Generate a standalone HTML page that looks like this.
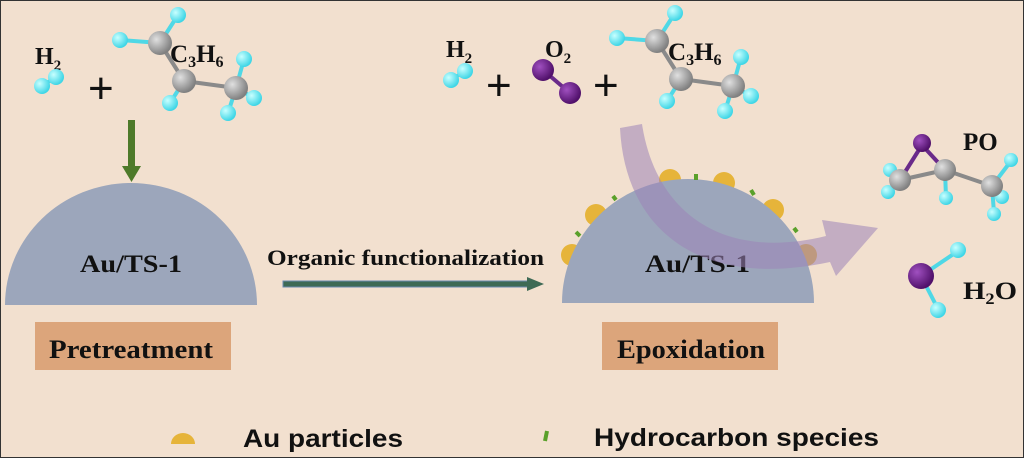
<!DOCTYPE html>
<html><head><meta charset="utf-8"><style>
html,body{margin:0;padding:0;background:#fff}
svg{display:block}
.t{font-family:"Liberation Serif",serif;font-weight:bold;fill:#111}
.s{font-family:"Liberation Sans",sans-serif;font-weight:bold;fill:#111}
</style></head><body>
<svg width="1024" height="458" viewBox="0 0 1024 458" xmlns="http://www.w3.org/2000/svg">
<defs>
<radialGradient id="h" cx="35%" cy="35%" r="65%"><stop offset="0" stop-color="#c8ffff"/><stop offset="1" stop-color="#3fd6e6"/></radialGradient>
<radialGradient id="c" cx="35%" cy="35%" r="65%"><stop offset="0" stop-color="#e0e0e0"/><stop offset="1" stop-color="#808080"/></radialGradient>
<radialGradient id="o" cx="35%" cy="35%" r="65%"><stop offset="0" stop-color="#a050c0"/><stop offset="1" stop-color="#50106a"/></radialGradient>
<g id="prop">
 <g stroke="#8a8a8a" stroke-width="4"><line x1="0" y1="0" x2="24" y2="38"/><line x1="24" y1="38" x2="76" y2="45"/></g>
 <g stroke="#4fd8e6" stroke-width="4"><line x1="0" y1="0" x2="18" y2="-28"/><line x1="0" y1="0" x2="-40" y2="-3"/><line x1="24" y1="38" x2="10" y2="60"/><line x1="76" y1="45" x2="84" y2="16"/><line x1="76" y1="45" x2="94" y2="55"/><line x1="76" y1="45" x2="68" y2="70"/></g>
 <circle cx="18" cy="-28" r="8" fill="url(#h)"/><circle cx="-40" cy="-3" r="8" fill="url(#h)"/>
 <circle cx="10" cy="60" r="8" fill="url(#h)"/><circle cx="84" cy="16" r="8" fill="url(#h)"/>
 <circle cx="94" cy="55" r="8" fill="url(#h)"/><circle cx="68" cy="70" r="8" fill="url(#h)"/>
 <circle cx="0" cy="0" r="12" fill="url(#c)"/><circle cx="24" cy="38" r="12" fill="url(#c)"/><circle cx="76" cy="45" r="12" fill="url(#c)"/>
</g>
<g id="h2"><line x1="0" y1="0" x2="14" y2="-9" stroke="#4fd8e6" stroke-width="4"/><circle cx="0" cy="0" r="8" fill="url(#h)"/><circle cx="14" cy="-9" r="8" fill="url(#h)"/></g>
</defs>
<rect x="0" y="0" width="1024" height="458" fill="#f2e0cf" stroke="#333" stroke-width="2"/>

<!-- left -->
<text x="35" y="64" class="t" font-size="24">H<tspan font-size="15" dy="6">2</tspan></text>
<use href="#h2" x="42" y="86"/>
<text x="88" y="103" font-family="Liberation Sans,sans-serif" font-size="44" fill="#111">+</text>
<use href="#prop" x="160" y="43"/>
<text x="170" y="62" class="t" font-size="25">C<tspan font-size="16" dy="5">3</tspan><tspan dy="-5">H</tspan><tspan font-size="16" dy="5">6</tspan></text>
<rect x="128" y="120" width="7" height="48" fill="#4e7a2a"/>
<polygon points="122,166 141,166 131.5,182" fill="#4e7a2a"/>
<path d="M5,305 A126,122 0 0 1 257,305 Z" fill="#9ca6bb"/>
<text x="80" y="272" class="t" font-size="25" textLength="102" lengthAdjust="spacingAndGlyphs">Au/TS-1</text>
<rect x="35" y="322" width="196" height="48" fill="#dca57b"/>
<text x="49" y="358" class="t" font-size="26" textLength="164" lengthAdjust="spacingAndGlyphs">Pretreatment</text>

<!-- arrow -->
<text x="267" y="265" class="t" font-size="22" textLength="277" lengthAdjust="spacingAndGlyphs">Organic  functionalization</text>
<rect x="283" y="281" width="246" height="6" fill="#3e6a55" stroke="#6a8ab0" stroke-width="1"/>
<polygon points="527,277 544,284 527,291" fill="#3e6a55"/>

<!-- right reactants -->
<text x="446" y="57" class="t" font-size="24">H<tspan font-size="15" dy="6">2</tspan></text>
<use href="#h2" x="451" y="80"/>
<text x="486" y="100" font-family="Liberation Sans,sans-serif" font-size="44" fill="#111">+</text>
<text x="545" y="57" class="t" font-size="24">O<tspan font-size="15" dy="6">2</tspan></text>
<line x1="543" y1="70" x2="570" y2="93" stroke="#6a2a8a" stroke-width="4"/>
<circle cx="543" cy="70" r="11" fill="url(#o)"/><circle cx="570" cy="93" r="11" fill="url(#o)"/>
<text x="593" y="100" font-family="Liberation Sans,sans-serif" font-size="44" fill="#111">+</text>
<use href="#prop" x="657" y="41"/>
<text x="668" y="60" class="t" font-size="25">C<tspan font-size="16" dy="5">3</tspan><tspan dy="-5">H</tspan><tspan font-size="16" dy="5">6</tspan></text>

<!-- right semicircle with particles -->
<g fill="#e6b43a">
<circle cx="572" cy="255" r="11"/><circle cx="596" cy="215" r="11"/><circle cx="670" cy="180" r="11"/>
<circle cx="724" cy="183" r="11"/><circle cx="773" cy="210" r="11"/><circle cx="806" cy="255" r="11"/>
</g>
<path d="M562,303 A126,124 0 0 1 814,303 Z" fill="#9ca6bb"/>
<g stroke="#5aa02a" stroke-width="4">
<line x1="576" y1="232" x2="580" y2="236"/><line x1="613" y1="196" x2="616" y2="200"/><line x1="696" y1="174" x2="696" y2="180"/>
<line x1="751" y1="190" x2="754" y2="195"/><line x1="794" y1="228" x2="797" y2="232"/>
</g>
<text x="645" y="272" class="t" font-size="25" textLength="105" lengthAdjust="spacingAndGlyphs">Au/TS-1</text>
<path d="M620,128 C625,230 700,290 830,262 L836,276 L878,228 L822,220 L826,236 C720,262 655,210 642,124 Z" fill="#9c84b8" opacity="0.55"/>
<rect x="602" y="322" width="176" height="48" fill="#dca57b"/>
<text x="617" y="358" class="t" font-size="26" textLength="148" lengthAdjust="spacingAndGlyphs">Epoxidation</text>

<!-- PO -->
<g stroke="#8a8a8a" stroke-width="4"><line x1="900" y1="180" x2="945" y2="170"/><line x1="945" y1="170" x2="992" y2="186"/></g>
<g stroke="#6a2a8a" stroke-width="4"><line x1="900" y1="180" x2="922" y2="145"/><line x1="922" y1="145" x2="945" y2="170"/></g>
<g stroke="#4fd8e6" stroke-width="4"><line x1="900" y1="180" x2="888" y2="190"/><line x1="900" y1="180" x2="890" y2="170"/><line x1="945" y1="170" x2="946" y2="198"/><line x1="992" y1="186" x2="1011" y2="161"/><line x1="992" y1="186" x2="1001" y2="196"/><line x1="992" y1="186" x2="994" y2="213"/></g>
<circle cx="888" cy="192" r="7" fill="url(#h)"/><circle cx="890" cy="170" r="7" fill="url(#h)"/><circle cx="946" cy="198" r="7" fill="url(#h)"/>
<circle cx="1011" cy="160" r="7" fill="url(#h)"/><circle cx="1002" cy="197" r="7" fill="url(#h)"/><circle cx="994" cy="214" r="7" fill="url(#h)"/>
<circle cx="922" cy="143" r="9" fill="url(#o)"/>
<circle cx="900" cy="180" r="11" fill="url(#c)"/><circle cx="945" cy="170" r="11" fill="url(#c)"/><circle cx="992" cy="186" r="11" fill="url(#c)"/>
<text x="963" y="150" class="t" font-size="25">PO</text>

<!-- H2O -->
<g stroke="#4fd8e6" stroke-width="4"><line x1="921" y1="276" x2="958" y2="251"/><line x1="921" y1="276" x2="938" y2="309"/></g>
<circle cx="958" cy="250" r="8" fill="url(#h)"/><circle cx="938" cy="310" r="8" fill="url(#h)"/>
<circle cx="921" cy="276" r="13" fill="url(#o)"/>
<text x="963" y="299" class="t" font-size="25" textLength="54" lengthAdjust="spacingAndGlyphs">H<tspan font-size="16" dy="5">2</tspan><tspan dy="-5">O</tspan></text>

<!-- legend -->
<path d="M171,444 A12,11 0 0 1 195,444 Z" fill="#e6b43a"/>
<text x="243" y="447" class="s" font-size="25" textLength="160" lengthAdjust="spacingAndGlyphs">Au particles</text>
<line x1="547" y1="431" x2="545" y2="441" stroke="#5aa02a" stroke-width="4"/>
<text x="594" y="446" class="s" font-size="25" textLength="285" lengthAdjust="spacingAndGlyphs">Hydrocarbon species</text>
</svg>
</body></html>
